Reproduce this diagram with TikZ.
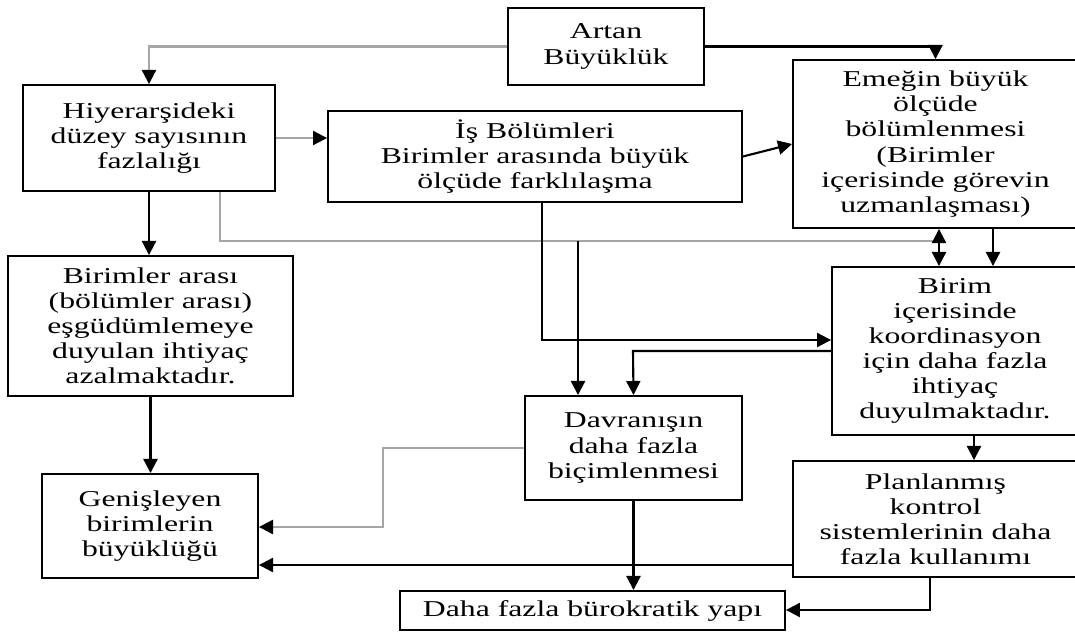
\documentclass[tikz,border=0pt]{standalone}
\usepackage{fontspec}
\setmainfont[FakeStretch=1.4]{Liberation Serif}
\usetikzlibrary{arrows.meta}
\begin{document}
\begin{tikzpicture}[x=0.02cm, y=-0.02cm,
    box/.style={draw, line width=1.1pt, align=center, inner sep=0pt,
      font=\fontsize{12.9}{14.3}\selectfont},
    link/.style={line width=1.2pt, -{Triangle[length=8pt,width=8pt]}},
    glink/.style={line width=1.2pt, gray!70, -{Triangle[length=8pt,width=8pt,color=black]}}]
  \useasboundingbox (0,0) rectangle (1075,632);

  % Define nodes
  \node[box, minimum width=3.92cm, minimum height=1.54cm] (artan) at (606,46.5) {Artan\\Büyüklük};
  \node[box, minimum width=5.04cm, minimum height=2.12cm] (hiyer) at (149,138) {Hiyerarşideki\\düzey sayısının\\fazlalığı};
  \node[box, minimum width=8.28cm, minimum height=1.82cm] (isbol) at (535,156.5) {İş Bölümleri\\Birimler arasında büyük\\ölçüde farklılaşma};
  \node[box, minimum width=5.7cm, minimum height=3.36cm] (emegin) at (935.5,144) {Emeğin büyük\\ölçüde\\bölümlenmesi\\(Birimler\\içerisinde görevin\\uzmanlaşması)};
  \node[box, minimum width=5.7cm, minimum height=2.8cm] (arasi) at (150.5,326) {Birimler arası\\(bölümler arası)\\eşgüdümlemeye\\duyulan ihtiyaç\\azalmaktadır.};
  \node[box, minimum width=4.92cm, minimum height=3.36cm] (birim) at (955,351) {Birim\\içerisinde\\koordinasyon\\için daha fazla\\ihtiyaç\\duyulmaktadır.};
  \node[box, minimum width=4.34cm, minimum height=2.08cm] (davran) at (633.5,448) {Davranışın\\daha fazla\\biçimlenmesi};
  \node[box, minimum width=4.32cm, minimum height=2.08cm] (genis) at (150,526) {Genişleyen\\birimlerin\\büyüklüğü};
  \node[box, minimum width=5.7cm, minimum height=2.32cm] (plan) at (935.5,519) {Planlanmış\\kontrol\\sistemlerinin daha\\fazla kullanımı};
  \node[box, minimum width=7.7cm, minimum height=0.78cm] (daha) at (592.5,610.5) {Daha fazla bürokratik yapı};

  % Bend points
  \coordinate (c1) at (220,241);
  \coordinate (c2) at (939,241);
  \coordinate (c3) at (578,241);
  \coordinate (c4) at (542,340);
  \coordinate (c5) at (633,351);
  \coordinate (c6) at (383,448);
  \coordinate (c7) at (383,527);
  \coordinate (c8) at (930,610);
  \coordinate (c9) at (974,448);
  \coordinate (c10) at (993,248);
  \coordinate (c11) at (700,565);

  % Draw edges
  \draw[glink] (artan.west) -| (hiyer.north);
  \draw[link] (artan.east) -| (emegin.north);
  \draw[glink] (hiyer.east) -- (hiyer.east -| isbol.west);
  \draw[link] (isbol.east) -- (emegin.west);
  \draw[link] (hiyer.south) -- (hiyer.south |- arasi.north);
  \draw[line width=1.2pt, gray!70] (hiyer.south -| c1) -- (c1) -- (c2);
  \draw[link, {Triangle[length=8pt,width=8pt]}-{Triangle[length=8pt,width=8pt]}] (emegin.south -| c2) -- (birim.north -| c2);
  \draw[link] (c10 |- emegin.south) -- (c10 |- birim.north);
  \draw[link] (isbol.south -| c4) -- (c4) -- (c4 -| birim.west);
  \draw[link] (c3) -- (c3 |- davran.north);
  \draw[link] (birim.west |- c5) -- (c5) -- (davran.north);
  \draw[link] (c9 |- birim.south) -- (c9 |- plan.north);
  \draw[link] (arasi.south) -- (arasi.south |- genis.north);
  \draw[glink] (davran.west) -- (c6) -- (c7) -- (c7 -| genis.east);
  \draw[link] (plan.west |- c11) -- (genis.east |- c11);
  \draw[link] (davran.south) -- (davran.south |- daha.north);
  \draw[link] (plan.south -| c8) -- (c8) -- (c8 -| daha.east);
\end{tikzpicture}
\end{document}
